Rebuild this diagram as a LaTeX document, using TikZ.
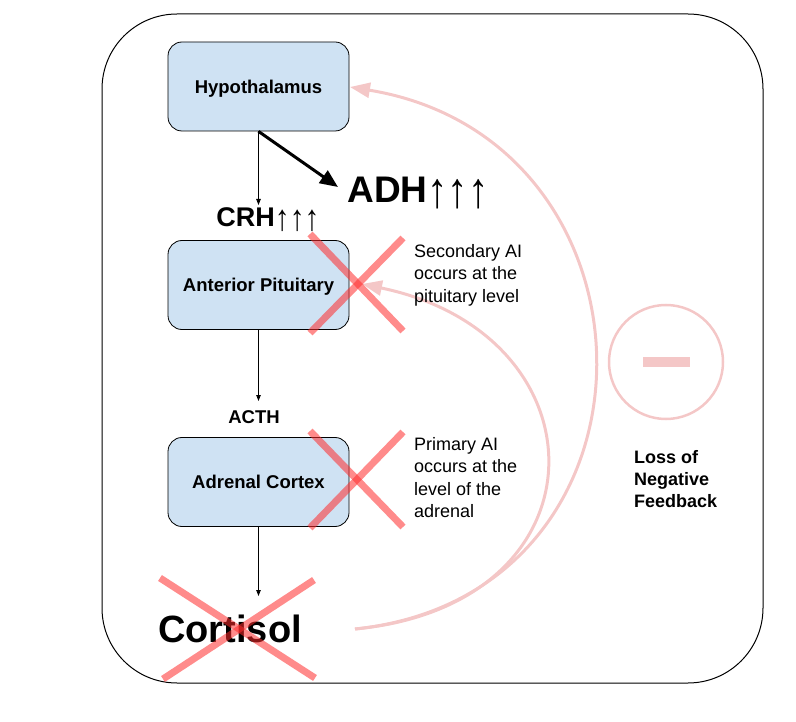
\documentclass[tikz,border=0pt]{standalone}
\usepackage{fontspec}
\setmainfont{Liberation Sans}
\usepackage{xcolor}
\usepackage{graphicx}
\usetikzlibrary{arrows.meta}

\definecolor{boxblue}{HTML}{CFE2F3}
\definecolor{fbpink}{HTML}{F4C7C7}
\definecolor{xred}{HTML}{FF2B2B}

\newcommand{\ups}[1]{{\mdseries\raisebox{-#1}{\scalebox{1.1}[1.35]{↑↑↑}}}}

\tikzset{
  organ/.style={draw=black, fill=boxblue, rounded corners=14pt, line width=0.8pt,
    minimum width=181pt, minimum height=89pt, text height=13.2pt, text depth=0pt,
    font=\bfseries\fontsize{18.5}{21}\selectfont},
  hormone/.style={inner sep=0pt, anchor=base, font=\bfseries},
  note/.style={anchor=north west, inner sep=0pt, align=left, font=\fontsize{18}{22.5}\selectfont},
  thinarrow/.style={line width=0.8pt, -{Triangle[length=6pt,width=4.5pt]}},
  fbarrow/.style={fbpink, line width=3pt, -{Triangle[length=20pt,width=15pt]}},
  xmark/.style={xred, opacity=0.55, line width=7pt}
}

\begin{document}
\begin{tikzpicture}[x=1pt,y=-1pt]
  \useasboundingbox (0,0) rectangle (796,722);
  % Marco exterior
  \draw[rounded corners=75pt, line width=1pt] (102,14) rectangle (763,683);

  % Retroalimentacion (perdida)
  \coordinate (fb) at (355,629);
  \coordinate (pitin) at (362,284);
  \draw[fbarrow] (fb) .. controls (678,595) and (672,140) .. (350,87);
  \draw[fbarrow] (fb) .. controls (610,605) and (608,335) .. (pitin);
  \draw[fbpink, line width=2.5pt] (666,362) circle (57pt);
  \fill[fbpink] (643,357) rectangle (690,367);

  % Organos
  \node[organ] (hyp) at (258.5,86.5) {Hypothalamus};
  \node[organ] (pit) at (258.5,285) {Anterior Pituitary};
  \node[organ] (adr) at (258.5,482) {Adrenal Cortex};

  % Hormonas (en la linea base)
  \node[hormone, font=\bfseries\fontsize{27}{30}\selectfont] (crh) at (268,227) {CRH\ups{4pt}};
  \node[hormone, font=\bfseries\fontsize{37}{40}\selectfont] (adh) at (418,203) {ADH\ups{5pt}};
  \node[hormone, font=\bfseries\fontsize{18.5}{20}\selectfont] (acth) at (254,423.5) {ACTH};
  \node[hormone, font=\bfseries\fontsize{38}{40}\selectfont] (cort) at (230,642) {Cortisol};

  % Puntas de flecha
  \coordinate (crhin) at (hyp.south |- 0,205);
  \coordinate (adhin) at (338,187);
  \coordinate (acthin) at (pit.south |- 0,401);
  \coordinate (cortin) at (adr.south |- 0,596);

  % Flechas
  \draw[thinarrow] (hyp.south) -- (crhin);
  \draw[line width=3pt, -{Triangle[length=18pt,width=15pt]}] (hyp.south) -- (adhin);
  \draw[thinarrow] (pit.south) -- (acthin);
  \draw[thinarrow] (adr.south) -- (cortin);

  % Notas
  \node[note] (sec) at (414,244) {Secondary AI\\occurs at the\\pituitary level};
  \node[note] (pri) at (414,437) {Primary AI\\occurs at the\\level of the\\adrenal};
  \node[note, font=\bfseries\fontsize{18}{22}\selectfont] (loss) at (634,450) {Loss of\\Negative\\Feedback};

  % Cruces
  \draw[xmark] (310,234) -- (403,331);
  \draw[xmark] (403,238) -- (310,333);
  \draw[xmark] (310,431) -- (403,527);
  \draw[xmark] (403,432) -- (310,528);
  \draw[xmark] (160,578) -- (315,678);
  \draw[xmark] (314,580) -- (163,679);
\end{tikzpicture}
\end{document}
